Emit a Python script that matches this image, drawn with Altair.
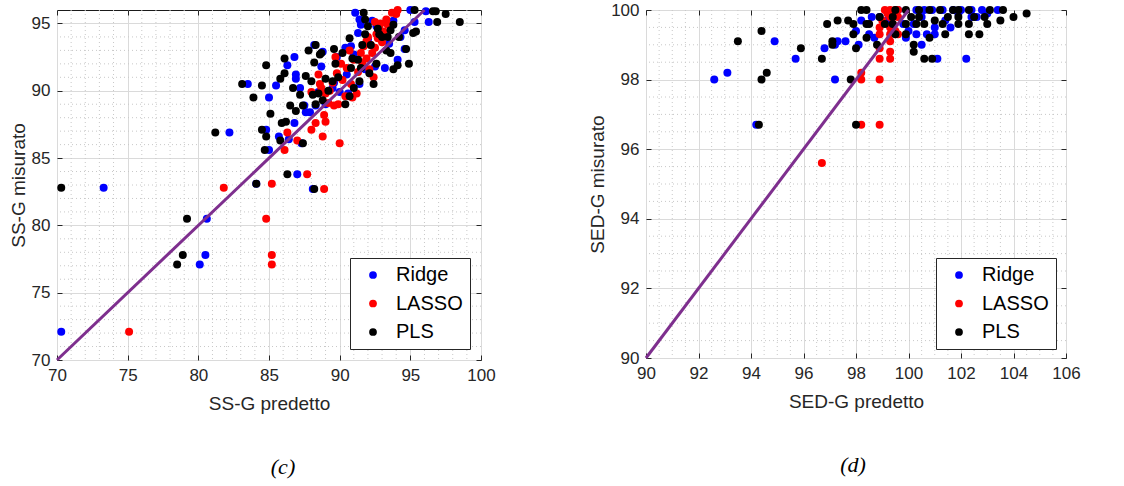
import altair as alt
import pandas as pd

METHODS = ["Ridge", "LASSO", "PLS"]
COLORS = ["#0000FF", "#FF0000", "#000000"]
FONT = "Liberation Sans"
INK = "#262626"

# ---------------- SS-G: predicted vs measured ----------------
ssg_ridge_pred = [70.3, 73.3, 80.1, 80.5, 80.6, 82.2, 83.5, 84.1, 85.0, 84.8,
                  85.0, 87.0, 88.1, 85.5, 85.7, 86.3, 86.8, 86.9, 86.9, 86.8,
                  87.2, 87.6, 88.2, 91.1, 91.4, 91.5, 95.0, 95.3, 96.3, 93.2,
                  94.6, 94.1, 91.8, 96.1, 91.3, 90.4, 89.5, 89.0, 88.7, 87.3,
                  87.9, 88.5, 89.6, 90.0, 90.6, 91.4, 92.3, 92.6, 94.6, 94.3,
                  93.5, 90.8, 89.8, 92.5, 93.8, 86.4, 88.8, 90.5, 91.0, 92.0,
                  87.5, 88.3]
ssg_ridge_meas = [72.1, 82.8, 77.1, 77.8, 80.5, 86.9, 90.5, 83.1, 89.5, 87.1,
                  85.6, 83.8, 82.7, 90.4, 86.6, 91.9, 92.5, 91.2, 90.9, 87.6,
                  90.2, 88.4, 93.4, 95.8, 95.3, 94.9, 96.0, 95.1, 95.1, 91.7,
                  93.1, 92.3, 91.6, 95.9, 94.3, 93.2, 90.2, 89.0, 91.8, 86.1,
                  88.4, 89.9, 90.6, 89.9, 89.8, 90.5, 95.2, 94.8, 94.5, 94.0,
                  93.5, 93.3, 92.5, 91.8, 95.2, 86.4, 92.9, 91.2, 92.7, 93.8,
                  88.9, 88.9]

ssg_lasso_pred = [75.1, 81.8, 84.8, 85.2, 85.2, 85.2, 87.7, 88.9, 86.1, 86.3,
                  87.0, 88.0, 88.3, 89.0, 88.8, 90.0, 88.9, 93.7, 94.1, 93.3,
                  92.5, 89.7, 88.5, 88.6, 89.0, 89.2, 89.6, 89.9, 89.5, 89.8,
                  90.2, 90.5, 90.8, 91.0, 91.2, 91.3, 91.5, 91.7, 91.9, 92.0,
                  92.2, 92.3, 92.5, 92.6, 92.8, 92.9, 93.1, 93.4, 90.1, 90.7,
                  91.6, 92.1, 90.4, 88.0, 88.7, 89.3, 91.9, 92.4, 93.0, 90.9,
                  94.0, 92.7]
ssg_lasso_meas = [72.1, 82.8, 80.5, 83.1, 77.8, 77.1, 83.8, 82.7, 85.6, 86.9,
                  86.3, 87.1, 87.6, 87.7, 86.6, 86.1, 88.2, 95.8, 96.0, 95.3,
                  95.1, 92.5, 91.2, 90.5, 89.8, 89.1, 88.9, 89.0, 90.6, 91.3,
                  90.8, 91.7, 90.5, 92.3, 89.8, 91.4, 92.8, 93.3, 93.7, 94.0,
                  93.4, 92.8, 93.2, 94.2, 94.6, 95.0, 94.4, 94.9, 92.0, 93.0,
                  92.1, 91.6, 89.6, 89.9, 90.2, 90.0, 92.4, 91.0, 93.6, 89.5,
                  95.7, 93.9]

ssg_pls_pred = [70.3, 79.2, 78.9, 78.5, 81.2, 84.1, 83.1, 83.9, 84.5, 84.8,
                84.5, 84.8, 84.7, 85.1, 86.3, 88.2, 87.4, 85.8, 86.1, 86.1,
                86.7, 87.2, 86.5, 86.9, 87.4, 87.8, 88.3, 88.7, 85.9, 86.2,
                85.8, 87.6, 88.0, 88.1, 88.5, 88.3, 88.8, 89.2, 89.7, 89.6,
                90.2, 90.4, 90.7, 90.9, 91.3, 91.4, 91.5, 91.6, 91.7, 91.8,
                92.0, 92.1, 92.4, 92.6, 92.7, 93.0, 93.3, 93.6, 93.8, 93.8,
                94.1, 94.7, 94.9, 95.2, 95.3, 95.4, 96.6, 96.8, 96.9, 97.5,
                98.5, 90.7, 91.8, 92.2, 92.8, 93.4, 89.9, 89.5, 89.0, 88.6,
                88.2, 90.8, 91.0, 93.6, 94.2]
ssg_pls_meas = [82.8, 80.5, 77.8, 77.1, 86.9, 83.1, 90.5, 89.5, 90.4, 91.9,
                87.1, 86.6, 85.6, 88.3, 83.8, 82.7, 86.1, 90.9, 91.3, 92.4,
                90.2, 89.7, 88.9, 88.5, 88.9, 93.0, 93.4, 92.8, 87.6, 87.7,
                86.3, 91.1, 90.7, 89.7, 89.8, 89.0, 89.3, 90.0, 92.0, 93.1,
                92.8, 89.0, 89.6, 92.4, 92.3, 90.7, 91.7, 93.4, 95.8, 95.3,
                94.8, 91.3, 90.5, 92.0, 94.6, 94.0, 93.0, 92.8, 94.9, 91.6,
                91.9, 93.1, 92.0, 94.3, 96.0, 94.4, 95.9, 95.9, 95.1, 95.7,
                95.1, 93.9, 94.2, 93.4, 94.2, 94.0, 91.0, 90.7, 90.9, 92.7,
                92.1, 91.7, 90.2, 94.5, 94.0]

# ---------------- SED-G: predicted vs measured ----------------
sedg_ridge_pred = [92.6, 93.1, 94.9, 95.7, 94.2, 97.2, 96.8, 97.2, 97.3, 97.6,
                   98.0, 98.1, 98.2, 98.6, 98.5, 98.7, 102.2, 101.1, 100.5, 100.3,
                   99.9, 100.0, 100.3, 100.6, 100.9, 101.3, 101.7, 102.0, 102.4, 102.8,
                   103.4, 101.6, 101.0, 101.4, 102.4, 100.7, 101.0, 99.6, 99.8, 98.9,
                   99.2, 100.2, 100.5, 102.6, 101.9, 103.0]
sedg_ridge_meas = [98.0, 98.2, 99.1, 98.6, 96.7, 98.0, 98.9, 99.0, 99.1, 99.1,
                   99.4, 99.0, 99.7, 99.8, 99.3, 99.2, 98.6, 98.6, 99.0, 99.3,
                   99.2, 99.4, 100.0, 100.0, 100.0, 100.0, 100.0, 100.0, 100.0, 100.0,
                   100.0, 99.5, 99.3, 99.7, 99.8, 99.3, 99.5, 100.0, 99.6, 99.8,
                   99.7, 99.6, 99.8, 99.8, 99.9, 99.9]

sedg_lasso_pred = [96.7, 98.2, 98.9, 98.2, 98.2, 98.9, 98.9, 98.9, 98.9, 98.9,
                   99.3, 99.3, 99.3, 99.3, 99.3, 99.3, 99.3, 99.5, 99.6, 99.6,
                   99.5, 99.6, 99.1, 99.0, 99.4, 99.2]
sedg_lasso_meas = [95.6, 96.7, 96.7, 98.0, 98.2, 98.0, 98.6, 98.9, 99.3, 99.5,
                   98.6, 98.8, 99.1, 99.3, 99.5, 99.8, 100.0, 100.0, 100.0, 99.8,
                   99.4, 99.3, 100.0, 99.7, 99.6, 99.9]

sedg_pls_pred = [93.5, 94.4, 94.4, 94.6, 94.3, 95.9, 96.7, 96.9, 97.3, 97.1,
                 97.1, 97.8, 97.7, 97.9, 97.9, 98.0, 98.0, 98.2, 98.4, 98.4,
                 98.4, 98.5, 98.8, 98.9, 99.1, 99.5, 99.4, 99.5, 99.9, 99.9,
                 99.9, 100.2, 100.2, 100.6, 100.9, 100.8, 101.4, 102.3, 102.7, 103.5,
                 104.0, 104.5, 103.6, 103.1, 102.9, 103.0, 102.3, 101.9, 101.9, 101.7,
                 101.2, 100.8, 100.4, 100.1, 100.3, 100.6, 101.0, 101.3, 101.5, 102.5,
                 102.3, 101.9, 100.4, 99.4]
sedg_pls_meas = [99.1, 99.4, 98.0, 98.2, 96.7, 98.9, 98.6, 99.6, 99.7, 99.1,
                 99.0, 98.0, 99.7, 99.6, 99.3, 98.9, 96.7, 100.0, 100.0, 99.2,
                 99.6, 99.6, 99.0, 99.8, 99.6, 100.0, 99.6, 99.3, 100.0, 99.6,
                 99.3, 99.0, 98.8, 98.6, 98.6, 99.2, 99.3, 99.3, 99.3, 99.7,
                 99.8, 99.9, 100.0, 100.0, 99.8, 99.6, 99.6, 99.6, 99.8, 100.0,
                 100.0, 100.0, 100.0, 99.8, 99.6, 99.6, 99.7, 99.6, 99.8, 99.8,
                 100.0, 100.0, 99.8, 99.8]

# Axis ticks and the y = x reference segment of each panel
ssg_xticks = [70, 75, 80, 85, 90, 95, 100]
ssg_yticks = [70, 75, 80, 85, 90, 95]
ssg_diag = [70, 96]
sedg_xticks = [90, 92, 94, 96, 98, 100, 102, 104, 106]
sedg_yticks = [90, 92, 94, 96, 98, 100]
sedg_diag = [90, 100]


def scatter_frame(series):
    parts = []
    for name, pred, meas in series:
        parts.append(pd.DataFrame({"pred": pred, "meas": meas, "method": name}))
    return pd.concat(parts, ignore_index=True)


def panel(df, diag, xdom, ydom, xticks, yticks, xminor, yminor,
          xtitle, ytitle, caption, w, h, lx, ly, cap_dx):
    xs = alt.Scale(domain=xdom, nice=False, zero=False)
    ys = alt.Scale(domain=ydom, nice=False, zero=False)

    minor_style = dict(color="#c8c8c8", strokeDash=[1, 3], strokeWidth=1)
    minor_x = alt.Chart(pd.DataFrame({"v": xminor})).mark_rule(**minor_style).encode(
        x=alt.X("v:Q", scale=xs, axis=None))
    minor_y = alt.Chart(pd.DataFrame({"v": yminor})).mark_rule(**minor_style).encode(
        y=alt.Y("v:Q", scale=ys, axis=None))

    main_axis = dict(grid=True, gridColor="#dadada", gridWidth=1, domain=False,
                     ticks=True, tickSize=5, tickColor=INK, tickWidth=1, offset=-5,
                     labelFlush=False, labelFont=FONT, labelFontSize=17,
                     labelColor=INK, labelPadding=7,
                     titleFont=FONT, titleFontSize=19, titleColor=INK,
                     titleFontWeight="normal")
    side_axis = dict(labels=False, grid=False, domain=False, ticks=True,
                     tickSize=5, tickColor=INK, tickWidth=1, offset=-5, title=None)

    pts = alt.Chart(df).mark_circle(size=64, opacity=1).encode(
        x=alt.X("pred:Q", scale=xs,
                axis=alt.Axis(orient="bottom", values=xticks, title=xtitle,
                              titlePadding=11, **main_axis)),
        y=alt.Y("meas:Q", scale=ys,
                axis=alt.Axis(orient="left", values=yticks, title=ytitle,
                              titlePadding=3, **main_axis)),
        color=alt.Color("method:N",
                        scale=alt.Scale(domain=METHODS, range=COLORS),
                        legend=alt.Legend(orient="none", legendX=lx, legendY=ly,
                                          title=None, strokeColor=INK,
                                          fillColor="white", padding=7,
                                          symbolType="circle", symbolSize=60,
                                          symbolStrokeWidth=0, symbolOffset=6,
                                          labelFont=FONT, labelFontSize=20,
                                          labelColor="black", labelOffset=13,
                                          rowPadding=8.5, cornerRadius=0)),
    )

    line = alt.Chart(pd.DataFrame({"pred": diag, "meas": diag})).mark_line(
        color="#7E2F8E", strokeWidth=3).encode(
        x=alt.X("pred:Q", scale=xs,
                axis=alt.Axis(orient="top", values=xticks, **side_axis)),
        y=alt.Y("meas:Q", scale=ys,
                axis=alt.Axis(orient="right", values=yticks, **side_axis)),
    )

    return alt.layer(minor_x, minor_y, pts, line).properties(
        width=w, height=h,
        title=alt.TitleParams(caption, orient="bottom", anchor="middle",
                              frame="group", font="Liberation Serif",
                              fontStyle="italic", fontWeight="normal",
                              fontSize=22, color="black", offset=44, dx=cap_dx),
    )


ssg = scatter_frame([("Ridge", ssg_ridge_pred, ssg_ridge_meas),
                     ("LASSO", ssg_lasso_pred, ssg_lasso_meas),
                     ("PLS", ssg_pls_pred, ssg_pls_meas)])
sedg = scatter_frame([("Ridge", sedg_ridge_pred, sedg_ridge_meas),
                      ("LASSO", sedg_lasso_pred, sedg_lasso_meas),
                      ("PLS", sedg_pls_pred, sedg_pls_meas)])

ssg_xminor = [v for v in range(71, 100) if v % 5]
ssg_yminor = [v for v in range(71, 96) if v % 5]
sedg_xminor = [90 + 0.5 * k for k in range(1, 32) if k % 4]
sedg_yminor = [90 + 0.5 * k for k in range(1, 20) if k % 4]

left = panel(ssg, ssg_diag, [70, 100], [70, 96], ssg_xticks, ssg_yticks,
             ssg_xminor, ssg_yminor, "SS-G predetto", "SS-G misurato", "(c)",
             424, 350, 293, 248, 14)
right = panel(sedg, sedg_diag, [90, 106], [90, 100], sedg_xticks, sedg_yticks,
              sedg_xminor, sedg_yminor, "SED-G predetto", "SED-G misurato", "(d)",
              420, 348, 290, 248, -3)

chart = alt.hconcat(left, right, spacing=165, bounds="flush").resolve_scale(
    color="independent"
).configure_view(
    stroke="#1a1a1a", strokeWidth=1
).properties(
    background="white",
    padding={"left": 8, "top": 0, "right": 0, "bottom": 0},
)

chart.save("out.html", embed_options={"renderer": "svg", "actions": False})
